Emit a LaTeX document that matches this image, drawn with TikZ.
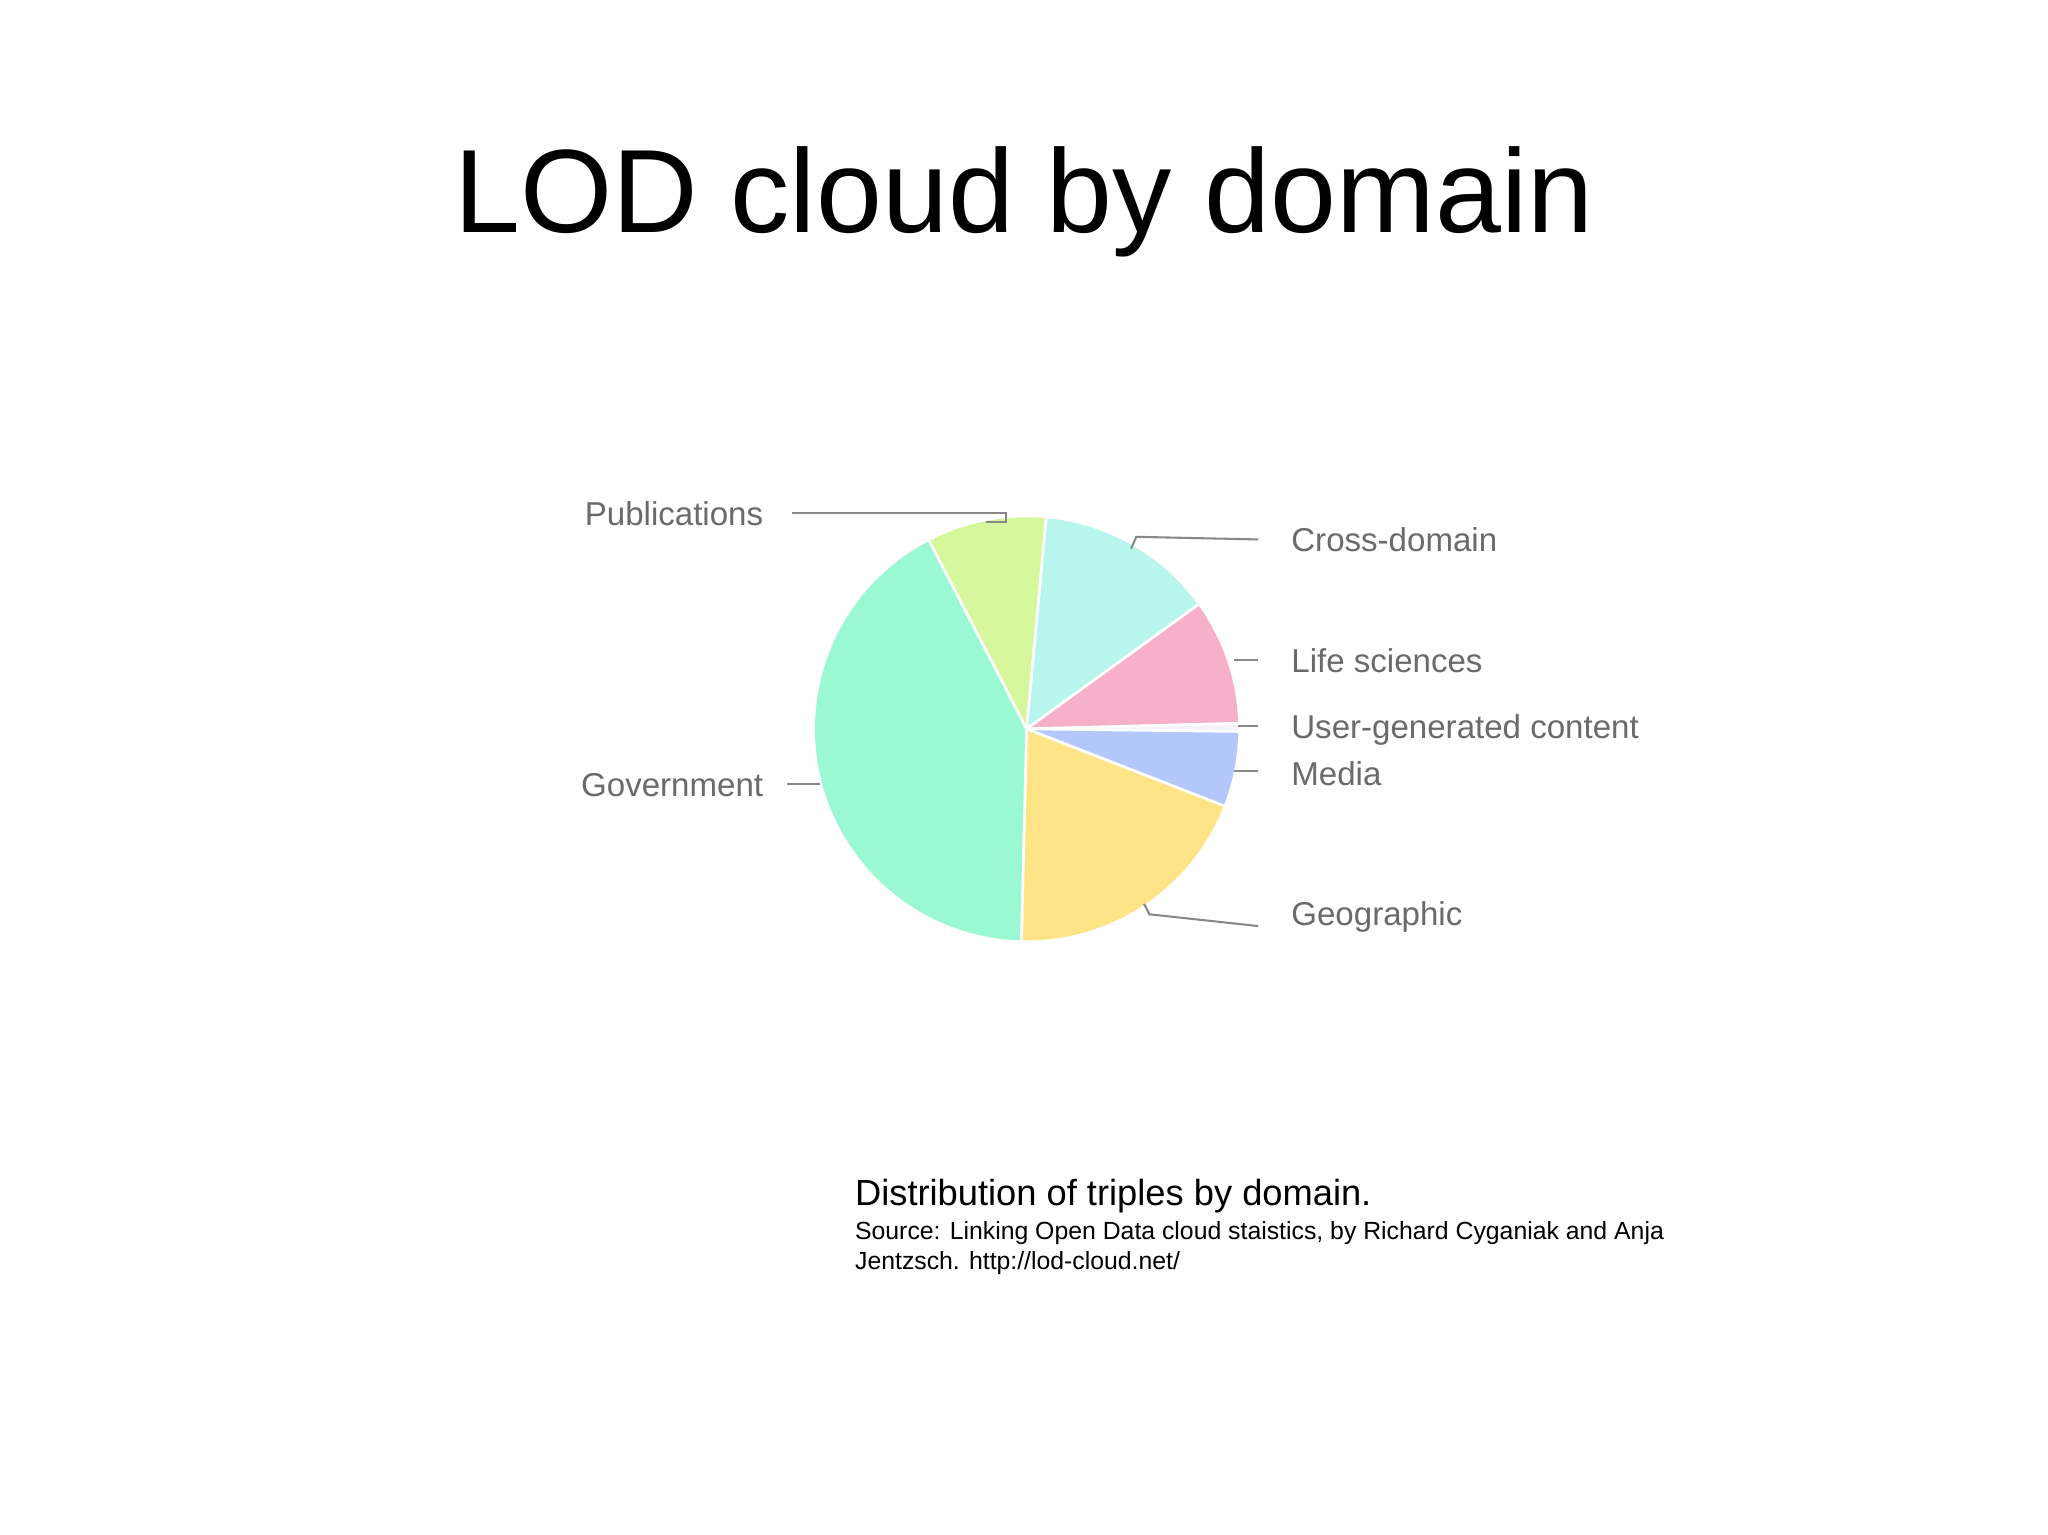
\documentclass[tikz,border=0pt]{standalone}
\usepackage{fontspec}
\setmainfont{Liberation Sans}
\definecolor{gov}{HTML}{9AF8D3}
\definecolor{pub}{HTML}{D7F79C}
\definecolor{cross}{HTML}{B8F5EC}
\definecolor{life}{HTML}{F7B0C9}
\definecolor{usr}{HTML}{F4F4F8}
\definecolor{media}{HTML}{B4C7FB}
\definecolor{geo}{HTML}{FFE487}
\definecolor{lbl}{HTML}{6A6A6A}
\begin{document}
\begin{tikzpicture}[x=0.01cm,y=-0.01cm,
  slice/.style={draw=white,line width=0.6pt},
  lab/.style={font=\fontsize{7.2pt}{8pt}\selectfont,text=lbl,inner sep=0pt},
  lead/.style={draw=lbl!80,line width=0.45pt}]
\path[use as bounding box,fill=white] (0,0) rectangle (1568,1175);
\coordinate (c) at (786,558);
\def\R{162}
\foreach \a/\b/\col in {117.4/268.6/gov, 84.7/117.4/pub, 35.9/84.7/cross, 1.5/35.9/life, -0.7/1.5/usr, -21.3/-0.7/media, -91.4/-21.3/geo}{
  \fill[\col] (c) -- ++({\R*cos(\a)},{-\R*sin(\a)}) arc[start angle=-\a,end angle=-\b,radius=\R] -- cycle;
}
\foreach \a in {117.4,268.6,84.7,35.9,1.5,-0.7,-21.3}{
  \draw[slice] (c) -- ++({\R*cos(\a)},{-\R*sin(\a)});
}
\node[lab,anchor=east] (pub) at (585,393) {Publications};
\node[lab,anchor=west] (cro) at (988,413) {Cross-domain};
\node[lab,anchor=west] (lif) at (988,506) {Life sciences};
\node[lab,anchor=west] (usg) at (988,559) {User-generated content};
\node[lab,anchor=west] (med) at (988,592) {Media};
\node[lab,anchor=west] (geg) at (988,702) {Geographic};
\node[lab,anchor=east] (gov) at (585,601) {Government};
\coordinate (p1) at (755,400); \coordinate (c1) at (866,420);
\coordinate (l1) at (945,505); \coordinate (u1) at (948,556);
\coordinate (m1) at (945,590); \coordinate (g1) at (876,692);
\coordinate (v1) at (628,600);
\draw[lead] ([xshift=6]pub.east) -- ++(164,0) |- (p1);
\draw[lead] ([xshift=-7]cro.west) -- (870,411) -- (c1);
\draw[lead] ([xshift=-7]lif.west |- l1) -- (l1);
\draw[lead] ([xshift=-7]usg.west |- u1) -- (u1);
\draw[lead] ([xshift=-7]med.west |- m1) -- (m1);
\draw[lead] ([xshift=-7,yshift=-2]geg.west) -- (880,700) -- (g1);
\draw[lead] ([xshift=5]gov.east |- v1) -- (v1);
\node[anchor=base,inner sep=0pt,font=\fontsize{25.8pt}{30pt}\selectfont] (title) at (784,178) {LOD cloud by domain};
\node[anchor=base west,inner sep=0pt,font=\fontsize{7.9pt}{9pt}\selectfont] (cap) at (654,923) {Distribution of triples by domain.};
\node[anchor=base west,inner sep=0pt,font=\fontsize{5.4pt}{6.6pt}\selectfont,align=left] (src) at (654,972) {Source: Linking Open Data cloud staistics, by Richard Cyganiak and Anja\\Jentzsch. http://lod-cloud.net/};
\end{tikzpicture}
\end{document}
